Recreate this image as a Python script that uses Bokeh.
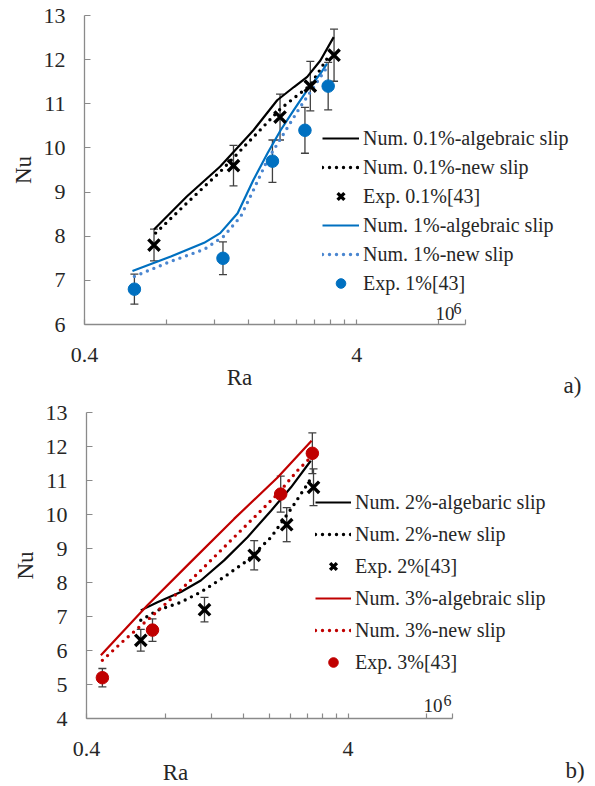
from bokeh.plotting import figure
from bokeh.models import (Range1d, FixedTicker, Whisker, TeeHead, ColumnDataSource,
                          Legend, LegendItem, Label)
from bokeh.layouts import column
from bokeh.embed import file_html
from bokeh.resources import INLINE

# ---------------- data (Ra in units of 10^6) ----------------
# panel a)
ra_exp01 = [0.72, 1.41, 2.09, 2.70, 3.30]
nu_exp01 = [7.8, 9.6, 10.7, 11.4, 12.1]
err_exp01 = [0.36, 0.46, 0.52, 0.56, 0.59]

ra_exp1 = [0.61, 1.29, 1.96, 2.58, 3.14]
nu_exp1 = [6.8, 7.5, 9.7, 10.4, 11.4]
err_exp1 = [0.34, 0.37, 0.48, 0.52, 0.54]

alg01_ra = [0.72, 0.95, 1.26, 1.67, 2.04, 2.35, 2.63, 2.94, 3.29]
alg01_nu = [8.15, 8.90, 9.58, 10.40, 11.08, 11.38, 11.61, 11.98, 12.51]
new01_ra = [0.73, 0.95, 1.26, 1.67, 2.10, 2.42, 2.70, 3.03, 3.20]
new01_nu = [8.07, 8.75, 9.46, 10.25, 10.89, 11.19, 11.42, 11.91, 12.14]

alg1_ra = [0.60, 0.83, 1.10, 1.26, 1.46, 1.67, 1.88, 2.10, 2.35, 2.63, 2.94, 3.11]
alg1_nu = [7.21, 7.54, 7.85, 8.07, 8.52, 9.28, 9.88, 10.40, 10.86, 11.31, 11.68, 11.91]
new1_ra = [0.61, 0.83, 1.10, 1.30, 1.50, 1.67, 1.88, 2.16, 2.48, 2.78, 3.11]
new1_nu = [7.09, 7.43, 7.70, 8.00, 8.45, 9.05, 9.73, 10.33, 10.93, 11.38, 11.83]

# panel b)
ra_exp2 = [0.645, 1.13, 1.75, 2.33, 2.95]
nu_exp2 = [6.3, 7.2, 8.8, 9.7, 10.8]
err_exp2 = [0.32, 0.36, 0.43, 0.50, 0.54]

ra_exp3 = [0.46, 0.715, 2.21, 2.92]
nu_exp3 = [5.2, 6.6, 10.6, 11.8]
err_exp3 = [0.27, 0.33, 0.53, 0.60]

alg2_ra = [0.645, 0.747, 0.918, 1.094, 1.343, 1.65, 2.03, 2.42, 2.88]
alg2_nu = [7.18, 7.42, 7.72, 8.06, 8.65, 9.33, 10.11, 10.80, 11.58]
new2_ra = [0.645, 0.747, 0.918, 1.094, 1.343, 1.65, 2.03, 2.42, 2.80, 2.88]
new2_nu = [6.89, 7.18, 7.42, 7.72, 8.16, 8.65, 9.33, 10.16, 10.90, 11.05]

alg3_ra = [0.454, 0.684, 1.00, 1.466, 2.15, 2.90]
alg3_nu = [5.86, 7.33, 8.60, 9.87, 11.09, 12.17]
new3_ra = [0.46, 0.557, 0.704, 0.865, 1.063, 1.343, 1.70, 2.15, 2.56, 2.88]
new3_nu = [5.71, 6.30, 6.98, 7.60, 8.26, 9.04, 9.82, 10.60, 11.29, 11.68]

x_ticks = [0.4, 0.8, 1.2, 1.6, 2.0, 2.4, 2.8, 3.2, 3.6, 4.0, 8.0, 10.0]
x_tick_labels = ["0.4", "", "", "", "", "", "", "", "", "4", "", ""]
x_min, x_max = 0.4, 10.0
y_ticks_a = [6, 7, 8, 9, 10, 11, 12, 13]
y_ticks_b = [4, 5, 6, 7, 8, 9, 10, 11, 12, 13]

labels_a = ["Num. 0.1%-algebraic slip", "Num. 0.1%-new slip", "Exp. 0.1%[43]",
            "Num. 1%-algebraic slip", "Num. 1%-new slip", "Exp. 1%[43]"]
labels_b = ["Num. 2%-algebaric slip", "Num. 2%-new slip", "Exp. 2%[43]",
            "Num. 3%-algebraic slip", "Num. 3%-new slip", "Exp. 3%[43]"]

# ---------------- style ----------------
FONT = "Liberation Serif"
TXT = "#262626"
AX = "#8a8a8a"
BLACK = "#000000"
BLUE = "#0070C0"
BLUE_DOT = "#4A86D0"
RED = "#C00000"
ERR = "#404040"
DOT = "0 7"
W = 595


def make_fig(height, axis_x_px, decade_px, axis_y_top_px, axis_y_px, ymin, ymax, yticks):
    """The frame covers the whole canvas; both axes are drawn at fixed data
    locations (x = x_min, y = ymin) so that every text lies inside the frame."""
    x_start = x_min * 10 ** (-axis_x_px / decade_px)
    x_end = x_min * 10 ** ((W - axis_x_px) / decade_px)
    unit = (axis_y_px - axis_y_top_px) / (ymax - ymin)
    y_start = ymin - (height - axis_y_px) / unit
    y_end = ymax + axis_y_top_px / unit
    p = figure(width=W, height=height, x_axis_type="log",
               x_range=Range1d(x_start, x_end), y_range=Range1d(y_start, y_end),
               output_backend="svg", toolbar_location=None,
               min_border=0, min_border_left=0, min_border_right=0,
               min_border_top=0, min_border_bottom=0)
    p.outline_line_color = None
    p.xgrid.visible = False
    p.ygrid.visible = False
    p.background_fill_color = "white"
    p.border_fill_color = "white"

    xa = p.xaxis[0]
    xa.fixed_location = ymin
    xa.bounds = (x_min, x_max)
    xa.ticker = FixedTicker(ticks=x_ticks, minor_ticks=[])
    xa.major_label_overrides = dict(zip(x_ticks, x_tick_labels))
    xa.major_tick_in = 5
    xa.major_tick_out = 0
    xa.minor_tick_in = 0
    xa.minor_tick_out = 0
    xa.axis_line_color = AX
    xa.axis_line_width = 1.3
    xa.major_tick_line_color = AX
    xa.major_tick_line_width = 1.2
    xa.major_label_text_font = FONT
    xa.major_label_text_font_size = "22px"
    xa.major_label_text_color = TXT
    xa.major_label_standoff = 23

    ya = p.yaxis[0]
    ya.fixed_location = x_min
    ya.bounds = (ymin, ymax)
    ya.ticker = FixedTicker(ticks=yticks, minor_ticks=[])
    ya.major_tick_in = 6
    ya.major_tick_out = 0
    ya.minor_tick_in = 0
    ya.minor_tick_out = 0
    ya.axis_line_color = AX
    ya.axis_line_width = 1.3
    ya.major_tick_line_color = AX
    ya.major_tick_line_width = 1.2
    ya.major_label_text_font = FONT
    ya.major_label_text_font_size = "22px"
    ya.major_label_text_color = TXT
    ya.major_label_standoff = 19
    ya.axis_label = "Nu"
    ya.axis_label_text_font = FONT
    ya.axis_label_text_font_size = "23px"
    ya.axis_label_text_font_style = "normal"
    ya.axis_label_text_color = TXT
    ya.axis_label_standoff = 5
    return p


def add_err(p, xs, ys, es):
    src = ColumnDataSource(dict(x=xs, upper=[y + e for y, e in zip(ys, es)],
                                lower=[y - e for y, e in zip(ys, es)]))
    w = Whisker(base="x", upper="upper", lower="lower", source=src, dimension="height",
                line_color=ERR, line_width=1.3,
                upper_head=TeeHead(size=8, line_color=ERR, line_width=1.3),
                lower_head=TeeHead(size=8, line_color=ERR, line_width=1.3))
    p.add_layout(w)


def panel(p, solid1, dot1, exp1, c1, cd1, solid2, dot2, exp2, c2, cd2, circ_col):
    r1 = p.line(solid1[0], solid1[1], line_color=c1, line_width=2.2)
    r2 = p.line(dot1[0], dot1[1], line_color=cd1, line_width=3.4, line_dash=DOT, line_cap="round")
    r4 = p.line(solid2[0], solid2[1], line_color=c2, line_width=2.2)
    r5 = p.line(dot2[0], dot2[1], line_color=cd2, line_width=3.4, line_dash=DOT, line_cap="round")
    add_err(p, exp1[0], exp1[1], exp1[2])
    add_err(p, exp2[0], exp2[1], exp2[2])
    r3 = p.scatter(exp1[0], exp1[1], marker="x", size=16, line_color=BLACK, line_width=3.4)
    r6 = p.scatter(exp2[0], exp2[1], marker="circle", size=12.5, fill_color=circ_col, line_color=circ_col)
    return [r1, r2, r3, r4, r5, r6]


def add_legend(p, rends, labels, vx, vy, gw, gh, spacing):
    items = [LegendItem(label=l, renderers=[r]) for l, r in zip(labels, rends)]
    lg = Legend(items=items, location=(vx, vy), padding=0, margin=0,
                border_line_alpha=0, background_fill_alpha=0,
                glyph_width=gw, glyph_height=gh, label_height=gh, spacing=spacing,
                label_standoff=4, label_text_font=FONT, label_text_font_size="20px",
                label_text_color=TXT)
    p.add_layout(lg, "center")


def add_text(p, x, y, text, size, align):
    # x, y: screen pixels from the canvas' left / bottom edge (frame = canvas)
    p.add_layout(Label(x=x, y=y, x_units="screen", y_units="screen", text=text,
                       text_font=FONT, text_font_size=size, text_color=TXT,
                       text_align=align, text_baseline="alphabetic"))


# ---------------- panel a ----------------
p1 = make_fig(400, 84, 272.3, 15, 324, 6, 13, y_ticks_a)
r_a = panel(p1, (alg01_ra, alg01_nu), (new01_ra, new01_nu), (ra_exp01, nu_exp01, err_exp01), BLACK, BLACK,
            (alg1_ra, alg1_nu), (new1_ra, new1_nu), (ra_exp1, nu_exp1, err_exp1), BLUE, BLUE_DOT, BLUE)
add_legend(p1, r_a, labels_a, 322, 105, 37, 24, 5)
add_text(p1, 239, 23, "Ra", "23px", "center")
add_text(p1, 435, 87, "10", "19px", "left")
add_text(p1, 453, 92, "6", "16px", "left")
add_text(p1, 563, 15, "a)", "23px", "left")

# ---------------- panel b ----------------
p2 = make_fig(386, 86, 261.6, 12, 318, 4, 13, y_ticks_b)
r_b = panel(p2, (alg2_ra, alg2_nu), (new2_ra, new2_nu), (ra_exp2, nu_exp2, err_exp2), BLACK, BLACK,
            (alg3_ra, alg3_nu), (new3_ra, new3_nu), (ra_exp3, nu_exp3, err_exp3), RED, RED, RED)
add_legend(p2, r_b, labels_b, 315, 112, 36, 24, 8)
add_text(p2, 175, 14, "Ra", "23px", "center")
add_text(p2, 423, 81, "10", "19px", "left")
add_text(p2, 443, 86, "6", "16px", "left")
add_text(p2, 565, 16, "b)", "23px", "left")

layout = column(p1, p2, spacing=0)
open("out.html", "w").write(file_html(layout, INLINE))
